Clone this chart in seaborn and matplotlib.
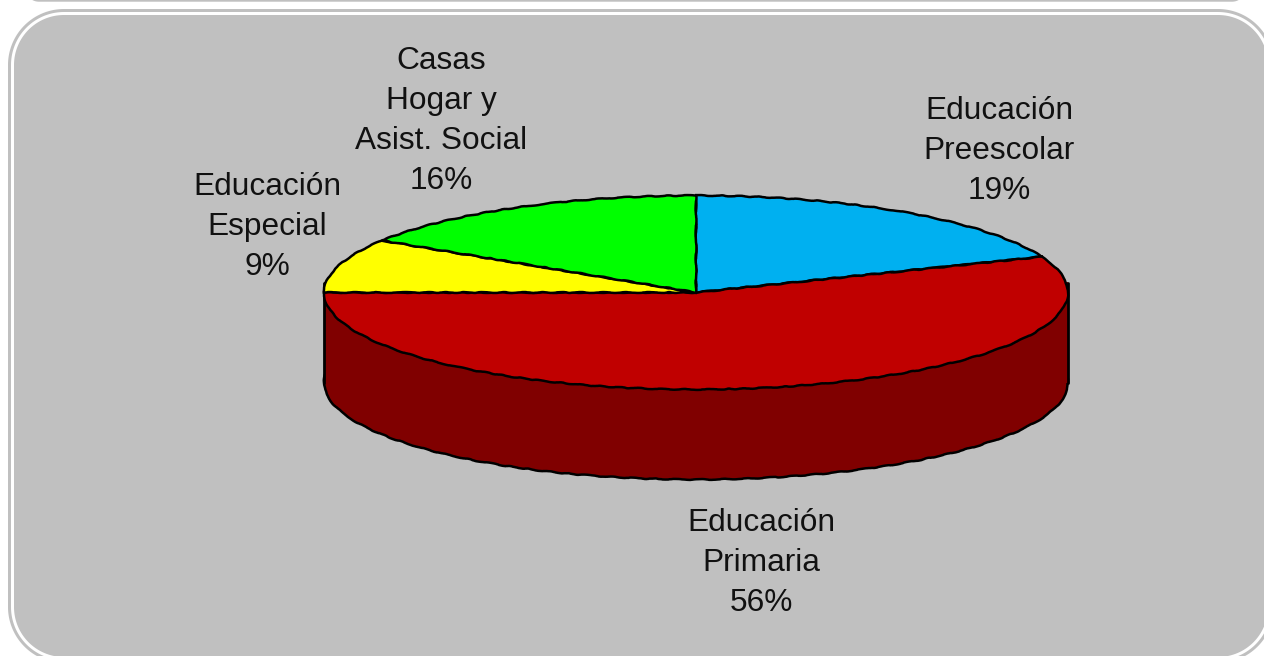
import matplotlib
matplotlib.use("Agg")
import matplotlib.pyplot as plt
from matplotlib.patches import Polygon, Rectangle
import numpy as np
import seaborn as sns

# Distribution of spending by education programme
categories = ["Educación\nPreescolar", "Educación\nPrimaria", "Educación\nEspecial", "Casas\nHogar y\nAsist. Social"]
shares = [19, 56, 9, 16]
slice_colors = ["#00B0F0", "#C00000", "#FFFF00", "#00FF00"]
wall_color = "#800000"
panel_color = "#C0C0C0"

sns.set_theme(style="white")
plt.rcParams["font.family"] = ["Liberation Sans", "DejaVu Sans"]

W, H = 1264, 656
fig = plt.figure(figsize=(W / 100, H / 100), dpi=100, facecolor="white")

# Page-level layer in pixel units: the rounded panel and its outline
page = fig.add_axes([0, 0, 1, 1], zorder=0)
page.set_xlim(0, W)
page.set_ylim(H, 0)
page.axis("off")


def rounded(x0, y0, x1, y1, r, **kw):
    """Rounded rectangle with true circular corners."""
    t = np.linspace(0, np.pi / 2, 40)
    corners = [(x1 - r, y1 - r, 0), (x0 + r, y1 - r, np.pi / 2), (x0 + r, y0 + r, np.pi), (x1 - r, y0 + r, 1.5 * np.pi)]
    pts = np.vstack([np.c_[cx + r * np.cos(t + a), cy + r * np.sin(t + a)] for cx, cy, a in corners])
    page.add_patch(Polygon(pts, closed=True, edgecolor="none", **kw))


rounded(25, -60, 1246, 1.7, 14, facecolor=panel_color)
rounded(8, 9, 1274, 663, 56, facecolor=panel_color)
rounded(11, 12, 1271, 660, 53, facecolor="white")
rounded(14, 15, 1268, 657, 50, facecolor=panel_color)

# Pie layer: the unit circle is stretched to the flattened 3D ellipse
CX, CY, RX, RY = 696, 292.5, 372, 97
DEPTH = 90 / RY
pie_ax = fig.add_axes([0, 0, 1, 1], zorder=1)
pie_ax.patch.set_alpha(0)
edge = dict(edgecolor="black", linewidth=1.8)
wall, _ = pie_ax.pie([1], colors=[wall_color], center=(0, -DEPTH), radius=1, wedgeprops=edge)
pie_ax.add_patch(Rectangle((-1, -DEPTH), 2, DEPTH + 11 / RY, facecolor=wall_color, edgecolor="none", zorder=1.5))
for side in (-1, 1):
    pie_ax.plot([side, side], [-DEPTH, 10 / RY], color="black", lw=2, zorder=1.6)
top, _ = pie_ax.pie(shares, colors=slice_colors, startangle=90, counterclock=False, radius=1,
                    wedgeprops=dict(zorder=2, **edge))
# Slightly rough outlines, as the low-resolution rendering of a 3D pie has
for wedge in list(wall) + list(top):
    wedge.set_sketch_params(scale=0.45, length=30, randomness=4)
pie_ax.set_aspect("auto")
pie_ax.set_xlim(-CX / RX, (W - CX) / RX)
pie_ax.set_ylim((CY - H) / RY, CY / RY)
pie_ax.axis("off")

# Slice labels
label_x = [999, 761, 267, 441]
label_y = [151, 563, 227, 121]
text_ax = fig.add_axes([0, 0, 1, 1], zorder=2)
text_ax.patch.set_alpha(0)
text_ax.set_xlim(0, W)
text_ax.set_ylim(H, 0)
text_ax.axis("off")
for name, share, x, y in zip(categories, shares, label_x, label_y):
    text_ax.text(x, y, f"{name}\n{share}%", ha="center", va="center", ma="center",
                 fontsize=22.8, linespacing=1.43, color="#111111")

fig.savefig("out.png", dpi=100, facecolor="white")
